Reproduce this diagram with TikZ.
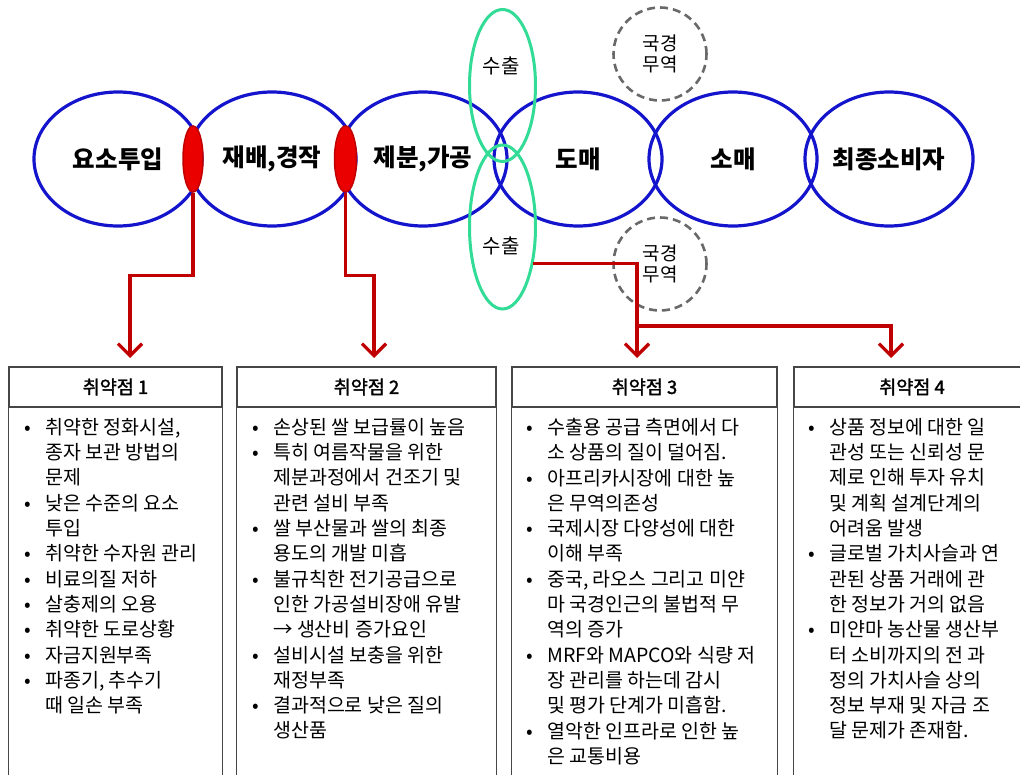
\documentclass[tikz,border=0pt]{standalone}
\usepackage{fontspec}
\setmainfont{Noto Sans CJK KR}
\newfontfamily\hdrfont[FakeBold=1.6]{Noto Sans CJK KR}
\usetikzlibrary{arrows.meta,shapes.geometric}
\definecolor{eblue}{RGB}{20,20,205}
\definecolor{egreen}{RGB}{50,220,150}
\definecolor{lensred}{RGB}{235,0,0}
\definecolor{arrred}{RGB}{192,0,0}
\definecolor{dgray}{RGB}{105,105,105}
\definecolor{boxline}{RGB}{70,70,70}
\newcommand{\bul}{\makebox[21pt][l]{•}}
\newcommand{\ind}{\hspace*{21pt}}
\begin{document}
\begin{tikzpicture}[x=1pt,y=-1pt,
  stage/.style={ellipse, draw=eblue, line width=3.2pt, minimum width=168pt, minimum height=134pt, inner sep=0pt, font=\fontsize{24.5}{28}\selectfont\bfseries},
  export/.style={ellipse, draw=egreen, line width=3pt, minimum width=66pt, inner sep=0pt},
  lens/.style={ellipse, fill=lensred, draw=arrred, line width=1.5pt, minimum height=66pt, inner sep=0pt},
  border/.style={circle, draw=dgray, line width=2.6pt, dash pattern=on 8pt off 5pt, minimum size=93pt, inner sep=0pt, align=center, font=\fontsize{19}{20.5}\selectfont},
  lbl/.style={font=\fontsize{20}{22}\selectfont, inner sep=0pt},
  conn/.style={draw=arrred, line width=3.2pt, -{Straight Barb[length=12pt,width=24pt]}},
  hdr/.style={draw=boxline, line width=1.2pt, minimum height=40pt, inner sep=0pt, font=\hdrfont\fontsize{18.5}{20}\selectfont},
  side/.style={draw=boxline, line width=1.2pt},
  body/.style={anchor=north west, inner sep=0pt, align=left, font=\fontsize{19.5}{25.3}\selectfont}
]
\useasboundingbox (0,0) rectangle (1020,775);
\fill[white] (0,0) rectangle (1020,775);

% stages
\node[stage] (s1) at (118,159) {요소투입};
\node[stage] (s2) at (272,159) {재배,경작};
\node[stage] (s3) at (423,159) {제분,가공};
\node[stage] (s4) at (578,159) {도매};
\node[stage] (s5) at (733,159) {소매};
\node[stage] (s6) at (889,159) {최종소비자};

% export ellipses
\node[export, minimum height=152pt] (g1) at (502.5,85.5) {};
\node[export, minimum height=164pt] (g2) at (502.5,227) {};
\node[lbl] (e1) at (501,66) {수출};
\node[lbl] (e2) at (501,246) {수출};

% border trade
\node[border] (c1) at (660,54) {국경\\무역};
\node[border] (c2) at (660,264) {국경\\무역};

% vulnerability lenses
\node[lens, minimum width=20pt] (l1) at (193,159) {};
\node[lens, minimum width=22pt] (l2) at (345.5,159) {};

% boxes
\node[hdr, minimum width=213pt] (b1) at (115.5,387) {취약점 1};
\node[hdr, minimum width=259pt] (b2) at (366.5,387) {취약점 2};
\node[hdr, minimum width=265pt] (b3) at (644.5,387) {취약점 3};
\node[hdr, minimum width=236pt] (b4) at (912,387) {취약점 4};
\foreach \b in {b1,b2,b3,b4}{
  \draw[side] (\b.south west) -- ++(0,380);
  \draw[side] (\b.south east) -- ++(0,380);
}

% arrow targets
\coordinate (t1) at (130,358);
\coordinate (t2) at (374,358);
\coordinate (t3) at (637,358);
\coordinate (t4) at (891,358);
\coordinate (j3) at (637,326);

\draw[conn] (l1.south) -- ++(0,83) -| (t1);
\draw[conn] (l2.south) -- ++(0,83) -| (t2);
\draw[conn] (g2.-50) -| (t3);
\draw[conn] (j3) -| (t4);

% body texts
\node[body] (x1) at (24,418) {\bul 취약한 정화시설,\\
\ind 종자 보관 방법의\\
\ind 문제\\
\bul 낮은 수준의 요소\\
\ind 투입\\
\bul 취약한 수자원 관리\\
\bul 비료의질 저하\\
\bul 살충제의 오용\\
\bul 취약한 도로상황\\
\bul 자금지원부족\\
\bul 파종기, 추수기\\
\ind 때 일손 부족};

\node[body] (x2) at (252,418) {\bul 손상된 쌀 보급률이 높음\\
\bul 특히 여름작물을 위한\\
\ind 제분과정에서 건조기 및\\
\ind 관련 설비 부족\\
\bul 쌀 부산물과 쌀의 최종\\
\ind 용도의 개발 미흡\\
\bul 불규칙한 전기공급으로\\
\ind 인한 가공설비장애 유발\\
\ind → 생산비 증가요인\\
\bul 설비시설 보충을 위한\\
\ind 재정부족\\
\bul 결과적으로 낮은 질의\\
\ind 생산품};

\node[body] (x3) at (526,418) {\bul 수출용 공급 측면에서 다\\
\ind 소 상품의 질이 덜어짐.\\
\bul 아프리카시장에 대한 높\\
\ind 은 무역의존성\\
\bul 국제시장 다양성에 대한\\
\ind 이해 부족\\
\bul 중국, 라오스 그리고 미얀\\
\ind 마 국경인근의 불법적 무\\
\ind 역의 증가\\
\bul MRF와 MAPCO와 식량 저\\
\ind 장 관리를 하는데 감시\\
\ind 및 평가 단계가 미흡함.\\
\bul 열악한 인프라로 인한 높\\
\ind 은 교통비용};

\node[body] (x4) at (808,418) {\bul 상품 정보에 대한 일\\
\ind 관성 또는 신뢰성 문\\
\ind 제로 인해 투자 유치\\
\ind 및 계획 설계단계의\\
\ind 어려움 발생\\
\bul 글로벌 가치사슬과 연\\
\ind 관된 상품 거래에 관\\
\ind 한 정보가 거의 없음\\
\bul 미얀마 농산물 생산부\\
\ind 터 소비까지의 전 과\\
\ind 정의 가치사슬 상의\\
\ind 정보 부재 및 자금 조\\
\ind 달 문제가 존재함.};
\end{tikzpicture}
\end{document}
